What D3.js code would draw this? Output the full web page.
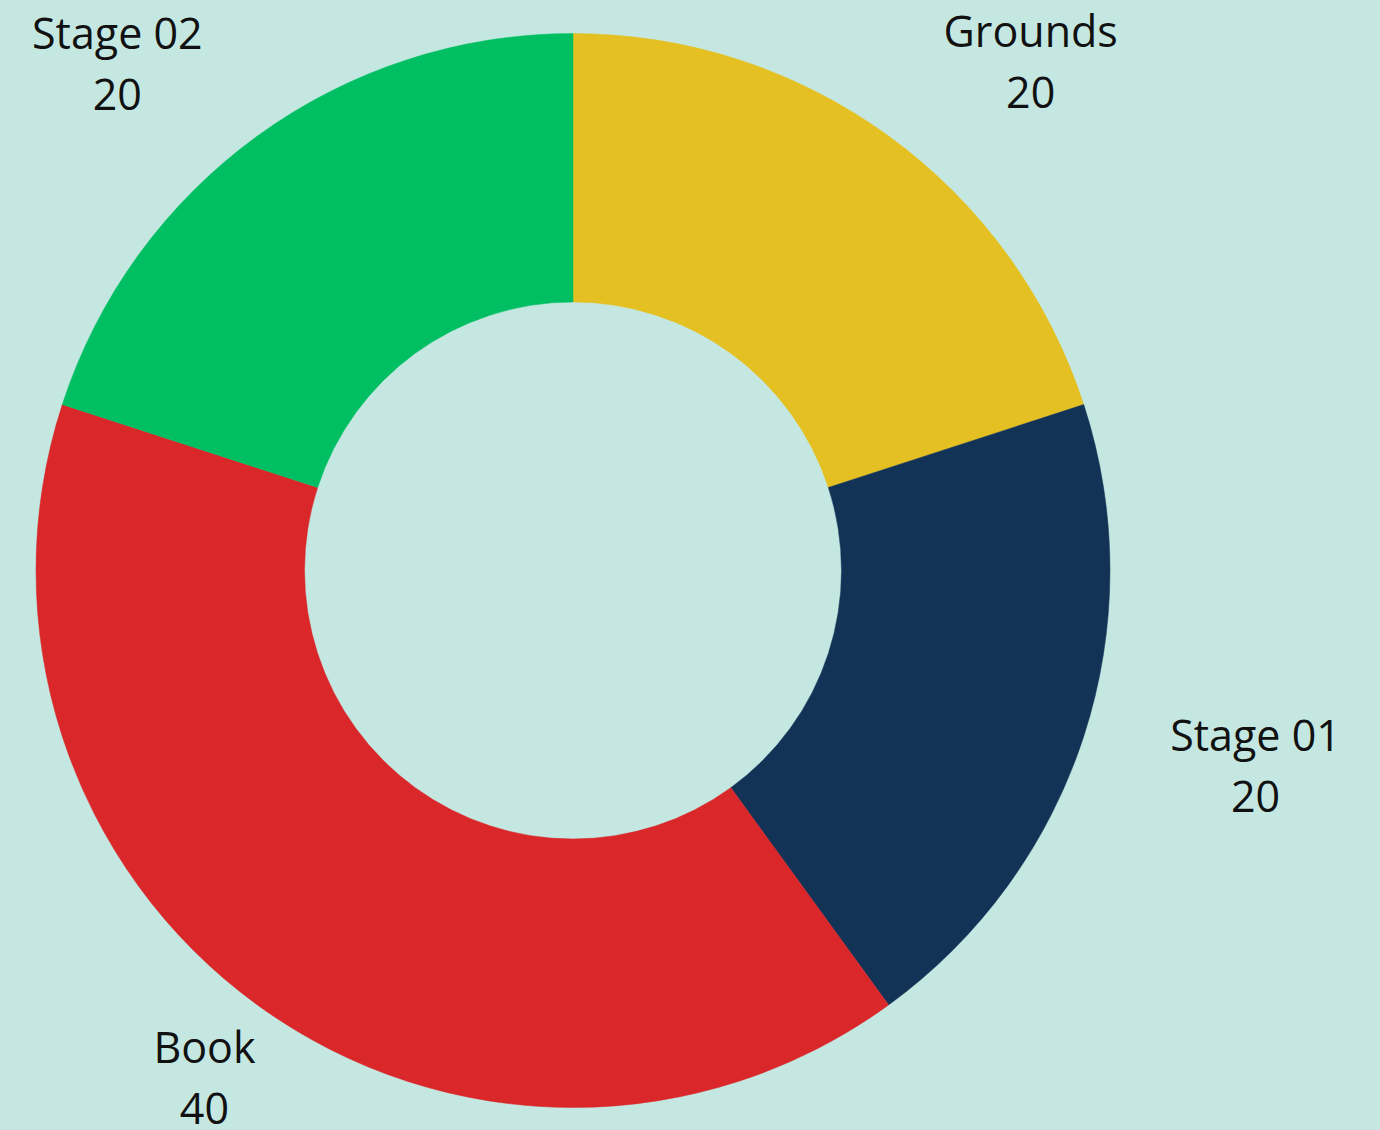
<!DOCTYPE html>
<html>
<head>
<meta charset="utf-8">
<script src="https://cdn.jsdelivr.net/npm/d3@7"></script>
<style>
  html, body { margin: 0; padding: 0; background: #C4E8E1; }
  svg { display: block; }
</style>
</head>
<body>
<svg id="chart" width="1380" height="1130"></svg>
<script>
// ---- data ----
const categories = ["Grounds", "Stage 01", "Book", "Stage 02"];
const values = [20, 20, 40, 20];
const colors = ["#E4C022", "#123256", "#D9272A", "#00BF63"];

// ---- layout ----
const W = 1380, H = 1130;
const cx = 573, cy = 570.5;
const outerR = 537, innerR = 268.5;
// label placement: radius (in px from centre) and small angle nudge (deg) per slice
const labelRadius = [684, 710, 627, 681];
const labelNudge = [6, -2, 0, -6];

const svg = d3.select("#chart");
svg.append("rect").attr("width", W).attr("height", H).attr("fill", "#C4E8E1");

const g = svg.append("g").attr("transform", `translate(${cx},${cy})`);

const pie = d3.pie().sort(null).value(d => d.value).startAngle(0).endAngle(2 * Math.PI);
const arc = d3.arc().innerRadius(innerR).outerRadius(outerR);

const data = categories.map((c, i) => ({ name: c, value: values[i], color: colors[i] }));
const arcs = pie(data);

g.selectAll("path.slice")
  .data(arcs)
  .join("path")
  .attr("class", "slice")
  .attr("d", arc)
  .attr("fill", d => d.data.color)
  .attr("stroke", d => d.data.color)
  .attr("stroke-width", 0.5);

const fontSize = 43;
const lineGap = 61;

const labels = g.selectAll("g.label")
  .data(arcs)
  .join("g")
  .attr("class", "label")
  .attr("transform", (d, i) => {
    const a = (d.startAngle + d.endAngle) / 2 + labelNudge[i] * Math.PI / 180;
    const r = labelRadius[i];
    const x = r * Math.sin(a);
    const y = -r * Math.cos(a);
    return `translate(${x},${y})`;
  });

labels.append("text")
  .attr("text-anchor", "middle")
  .attr("font-family", "'Open Sans', sans-serif")
  .attr("font-size", fontSize)
  .attr("fill", "#111")
  .attr("y", -15)
  .text(d => d.data.name);

labels.append("text")
  .attr("text-anchor", "middle")
  .attr("font-family", "'Open Sans', sans-serif")
  .attr("font-size", fontSize)
  .attr("fill", "#111")
  .attr("y", -15 + lineGap)
  .text(d => d.data.value);
</script>
</body>
</html>
